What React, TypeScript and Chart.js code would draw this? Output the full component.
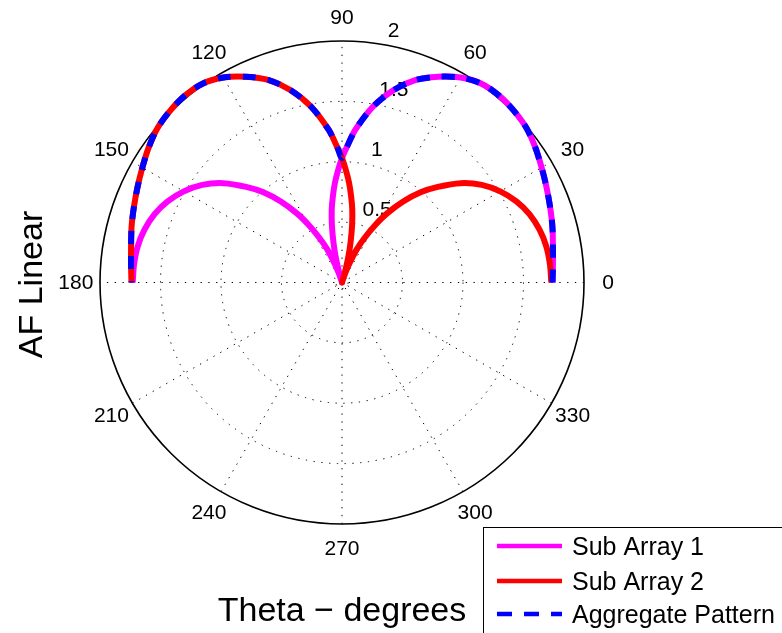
import React, { useEffect, useRef } from "react";
import { Chart, registerables } from "chart.js";

Chart.register(...registerables);

// ---------- data (degrees / linear array-factor magnitude) ----------
const THETA_1 = [0, 5, 10, 15, 20, 25, 30, 35, 40, 45, 50, 55, 60, 65, 70, 75, 80, 85, 88, 90, 92, 94, 96, 98, 100, 102, 104, 106, 107.5, 109, 111, 114, 117, 120, 123, 127, 131, 135, 140, 145, 150, 155, 160, 165, 170, 175, 180];
const SUB1 = [1.74, 1.75, 1.77, 1.8, 1.83, 1.865, 1.905, 1.95, 1.99, 2.01, 2.02, 2.01, 1.96, 1.88, 1.785, 1.65, 1.48, 1.27, 1.12, 1.03, 0.93, 0.83, 0.72, 0.61, 0.48, 0.34, 0.21, 0.08, 0.0, 0.07, 0.16, 0.3, 0.42, 0.55, 0.68, 0.84, 0.99, 1.12, 1.28, 1.41, 1.51, 1.59, 1.65, 1.69, 1.715, 1.725, 1.73];

const THETA_2 = [0, 5, 10, 15, 20, 25, 30, 35, 40, 45, 49, 53, 57, 60, 63, 66, 69, 71, 72.5, 74, 76, 78, 80, 82, 84, 86, 88, 90, 92, 95, 100, 105, 110, 115, 120, 125, 130, 135, 140, 145, 150, 155, 160, 165, 170, 175, 180];
const SUB2 = [1.73, 1.725, 1.715, 1.69, 1.65, 1.59, 1.51, 1.41, 1.28, 1.12, 0.99, 0.84, 0.68, 0.55, 0.42, 0.3, 0.16, 0.07, 0.0, 0.08, 0.21, 0.34, 0.48, 0.61, 0.72, 0.83, 0.93, 1.03, 1.12, 1.27, 1.48, 1.65, 1.785, 1.88, 1.96, 2.01, 2.02, 2.01, 1.99, 1.95, 1.905, 1.865, 1.83, 1.8, 1.77, 1.75, 1.74];

const THETA_AGG = [0, 5, 10, 15, 20, 25, 30, 35, 40, 45, 50, 55, 60, 65, 70, 75, 80, 85, 88, 90, 92, 95, 100, 105, 110, 115, 120, 125, 130, 135, 140, 145, 150, 155, 160, 165, 170, 175, 180];
const AGG = [1.74, 1.75, 1.77, 1.8, 1.83, 1.865, 1.905, 1.95, 1.99, 2.01, 2.02, 2.01, 1.96, 1.88, 1.785, 1.65, 1.48, 1.27, 1.12, 1.03, 1.12, 1.27, 1.48, 1.65, 1.785, 1.88, 1.96, 2.01, 2.02, 2.01, 1.99, 1.95, 1.905, 1.865, 1.83, 1.8, 1.77, 1.75, 1.74];

const SERIES_NAMES = ["Sub Array 1", "Sub Array 2", "Aggregate Pattern"];
const SERIES_COLORS = ["#ff00ff", "#ff0000", "#0000ff"];

const ANGLE_TICKS = [0, 30, 60, 90, 120, 150, 180, 210, 240, 270, 300, 330];
const ANGLE_LABELS = ["0", "30", "60", "90", "120", "150", "180", "210", "240", "270", "300", "330"];
const R_TICKS = [0.5, 1, 1.5, 2];
const R_LABELS = ["0.5", "1", "1.5", "2"];
const R_MAX = 2;

const X_LABEL = "Theta \u2212 degrees";
const Y_LABEL = "AF Linear";

const FONT = '"Liberation Sans", Arial, Helvetica, sans-serif';

function toXY(theta: number[], r: number[]) {
  return theta.map((t, i) => ({
    x: r[i] * Math.cos((t * Math.PI) / 180),
    y: r[i] * Math.sin((t * Math.PI) / 180),
  }));
}

const polarPlugin = {
  id: "polarGrid",
  beforeDatasetsDraw(chart: any) {
    const ctx = chart.ctx;
    const xs = chart.scales.x;
    const ys = chart.scales.y;
    const cx = xs.getPixelForValue(0);
    const cy = ys.getPixelForValue(0);
    const kx = xs.getPixelForValue(1) - cx;
    const ky = cy - ys.getPixelForValue(1);
    ctx.save();
    // dotted rings
    ctx.strokeStyle = "#000";
    ctx.lineWidth = 1;
    ctx.setLineDash([1.3, 6.5]);
    R_TICKS.forEach((r) => {
      if (r >= R_MAX) return;
      ctx.beginPath();
      ctx.ellipse(cx, cy, r * kx, r * ky, 0, 0, Math.PI * 2);
      ctx.stroke();
    });
    ctx.beginPath();
    ctx.ellipse(cx, cy, 0.05 * kx, 0.05 * ky, 0, 0, Math.PI * 2);
    ctx.stroke();
    // dotted spokes
    for (let a = 30; a <= 180; a += 30) {
      const c = Math.cos((a * Math.PI) / 180);
      const s = Math.sin((a * Math.PI) / 180);
      ctx.beginPath();
      ctx.moveTo(cx - R_MAX * kx * c, cy + R_MAX * ky * s);
      ctx.lineTo(cx + R_MAX * kx * c, cy - R_MAX * ky * s);
      ctx.stroke();
    }
    ctx.setLineDash([]);
    // outer circle
    ctx.lineWidth = 1.6;
    ctx.beginPath();
    ctx.ellipse(cx, cy, R_MAX * kx, R_MAX * ky, 0, 0, Math.PI * 2);
    ctx.stroke();
    // angle labels
    ctx.fillStyle = "#000";
    ctx.font = `21px ${FONT}`;
    ctx.textAlign = "center";
    ctx.textBaseline = "middle";
    ANGLE_TICKS.forEach((a, i) => {
      const c = Math.cos((a * Math.PI) / 180);
      const s = Math.sin((a * Math.PI) / 180);
      ctx.fillText(ANGLE_LABELS[i], cx + 1.1 * R_MAX * kx * c, cy - 1.1 * R_MAX * ky * s + 1);
    });
    // radial labels at 82 degrees
    ctx.textAlign = "left";
    ctx.textBaseline = "bottom";
    const c82 = Math.cos((82 * Math.PI) / 180);
    const s82 = Math.sin((82 * Math.PI) / 180);
    R_TICKS.forEach((r, i) => {
      const rr = r + 0.025;
      ctx.fillText("  " + R_LABELS[i], cx + rr * kx * c82, cy - rr * ky * s82 + 1);
    });
    ctx.restore();
  },
  afterDraw(chart: any) {
    const ctx = chart.ctx;
    const xs = chart.scales.x;
    const ys = chart.scales.y;
    const cx = xs.getPixelForValue(0);
    const cy = ys.getPixelForValue(0);
    ctx.save();
    ctx.fillStyle = "#000";
    // axis labels
    ctx.font = `34px ${FONT}`;
    ctx.textAlign = "center";
    ctx.textBaseline = "alphabetic";
    ctx.fillText(X_LABEL, cx, 621);
    ctx.save();
    ctx.translate(42, cy + 2);
    ctx.rotate(-Math.PI / 2);
    ctx.fillText(Y_LABEL, 0, 0);
    ctx.restore();
    // legend
    const lx = 483.5;
    const ly = 527.5;
    ctx.fillStyle = "#fff";
    ctx.fillRect(lx, ly, 400, 200);
    ctx.strokeStyle = "#000";
    ctx.lineWidth = 1;
    ctx.strokeRect(lx, ly, 400, 200);
    const rows = [546, 581, 614];
    SERIES_NAMES.forEach((name, i) => {
      ctx.strokeStyle = SERIES_COLORS[i];
      ctx.lineWidth = 4.5;
      ctx.setLineDash(i === 2 ? [15, 12] : []);
      ctx.lineCap = "butt";
      ctx.beginPath();
      ctx.moveTo(497, rows[i]);
      ctx.lineTo(562, rows[i]);
      ctx.stroke();
      ctx.setLineDash([]);
      ctx.fillStyle = "#000";
      ctx.font = `25px ${FONT}`;
      ctx.textAlign = "left";
      ctx.textBaseline = "middle";
      ctx.fillText(name, 572, rows[i] + 2);
    });
    ctx.restore();
  },
};

export default function App() {
  const ref = useRef<HTMLCanvasElement | null>(null);
  useEffect(() => {
    if (!ref.current) return;
    const common = {
      showLine: true,
      borderWidth: 6,
      pointRadius: 0,
      tension: 0.3,
      borderJoinStyle: "round",
    };
    const chart = new Chart(ref.current, {
      type: "scatter",
      data: {
        datasets: [
          {
            ...common,
            label: SERIES_NAMES[0],
            data: toXY(THETA_1, SUB1),
            borderColor: SERIES_COLORS[0],
            backgroundColor: SERIES_COLORS[0],
            order: 2,
          },
          {
            ...common,
            label: SERIES_NAMES[1],
            data: toXY(THETA_2, SUB2),
            borderColor: SERIES_COLORS[1],
            backgroundColor: SERIES_COLORS[1],
            order: 1,
          },
          {
            ...common,
            label: SERIES_NAMES[2],
            data: toXY(THETA_AGG, AGG),
            borderColor: SERIES_COLORS[2],
            backgroundColor: SERIES_COLORS[2],
            borderDash: [13, 12],
            borderCapStyle: "butt",
            borderJoinStyle: "miter",
            order: 0,
          },
        ] as any,
      },
      options: {
        animation: false,
        responsive: false,
        clip: false as any,
        layout: { padding: { left: 100, right: 198, top: 41, bottom: 109 } },
        plugins: { legend: { display: false }, tooltip: { enabled: false }, title: { display: false } },
        scales: {
          x: { type: "linear", min: -R_MAX, max: R_MAX, display: false },
          y: { type: "linear", min: -R_MAX, max: R_MAX, display: false },
        },
      },
      plugins: [polarPlugin],
    });
    return () => chart.destroy();
  }, []);
  return (
    <div style={{ position: "absolute", left: 0, top: 0, width: 782, height: 633, background: "#fff" }}>
      <canvas ref={ref} width={782} height={633} style={{ width: 782, height: 633, display: "block" }} />
    </div>
  );
}
